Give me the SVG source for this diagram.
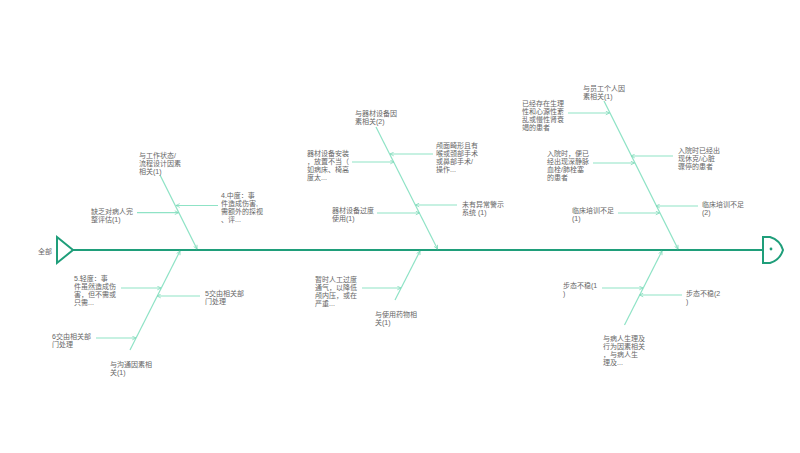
<svg xmlns="http://www.w3.org/2000/svg" width="800" height="453" viewBox="0 0 800 453">
<style>
text{font-family:"Liberation Sans","Noto Sans CJK SC",sans-serif;font-size:7px;fill:#666}
.spine{stroke:#1f9e7a;stroke-width:2;fill:none}
.br{stroke:#8fe3c6;stroke-width:1.2;fill:none;marker-end:url(#ah)}
.sub{stroke:#8fe3c6;stroke-width:1.2;fill:none;marker-end:url(#ah)}
</style>
<defs>
<marker id="ah" viewBox="0 0 8 8" refX="7" refY="4" markerWidth="5" markerHeight="5" markerUnits="userSpaceOnUse" orient="auto">
<path d="M1,1 L7,4 L1,7" fill="none" stroke="#7fd9b8" stroke-width="1.2"/>
</marker>
</defs>
<rect width="800" height="453" fill="#fff"/>
<g id="connectors">
<line class="spine" x1="73" y1="250" x2="763" y2="250"/>
<line class="br" x1="160" y1="175" x2="197" y2="249"/>
<line class="br" x1="130" y1="350" x2="180" y2="251"/>
<line class="br" x1="376" y1="127" x2="437.5" y2="249"/>
<line class="br" x1="395" y1="300" x2="420" y2="251"/>
<line class="br" x1="604" y1="101" x2="678" y2="249"/>
<line class="br" x1="624.5" y1="325" x2="662" y2="251"/>
<line class="sub" x1="218" y1="205.5" x2="176" y2="205.5"/>
<line class="sub" x1="137" y1="212.7" x2="178.5" y2="212.7"/>
<line class="sub" x1="121" y1="288" x2="161" y2="288"/>
<line class="sub" x1="200" y1="296" x2="157" y2="296"/>
<line class="sub" x1="96" y1="338" x2="136" y2="338"/>
<line class="sub" x1="433" y1="154" x2="390" y2="154"/>
<line class="sub" x1="352" y1="162" x2="394" y2="162"/>
<line class="sub" x1="457" y1="205" x2="415.5" y2="205"/>
<line class="sub" x1="377" y1="213" x2="419.5" y2="213"/>
<line class="sub" x1="362" y1="288" x2="401" y2="288"/>
<line class="sub" x1="568" y1="113" x2="609.5" y2="113"/>
<line class="sub" x1="673" y1="156" x2="631" y2="156"/>
<line class="sub" x1="593" y1="163" x2="634.5" y2="163"/>
<line class="sub" x1="698" y1="206" x2="656" y2="206"/>
<line class="sub" x1="618" y1="213" x2="659.5" y2="213"/>
<line class="sub" x1="602" y1="288" x2="643" y2="288"/>
<line class="sub" x1="682" y1="295" x2="639.5" y2="295"/>
</g>
<g id="tail">
<polygon points="57,237 73,250 57,263" fill="#fff" stroke="#1f9e7a" stroke-width="2" stroke-linejoin="miter"/>
<text x="38" y="254">全部</text>
</g>
<g id="head">
<path d="M763,237 L770,237 Q780,240 783,250 Q780,260 770,263 L763,263 Z" fill="#fff" stroke="#1f9e7a" stroke-width="2"/>
<circle cx="771" cy="249" r="1.4" fill="#1f9e7a"/>
</g>
<g id="n1"><text x="139" y="158">与工作状态/</text><text x="139" y="166">流程设计因素</text><text x="139" y="174">相关(1)</text></g>
<g id="n2"><text x="221" y="198">4.中度：事</text><text x="221" y="206">件造成伤害,</text><text x="221" y="214">需额外的探视</text><text x="221" y="222">、评...</text></g>
<g id="n3"><text x="91" y="213.5">缺乏对病人完</text><text x="91" y="221.5">整评估(1)</text></g>
<g id="n4"><text x="74" y="281">5.轻度：事</text><text x="74" y="289">件虽然造成伤</text><text x="74" y="297">害，但不需或</text><text x="74" y="305">只需...</text></g>
<g id="n5"><text x="205" y="296">5交由相关部</text><text x="205" y="304">门处理</text></g>
<g id="n6"><text x="52" y="338.5">6交由相关部</text><text x="52" y="346.5">门处理</text></g>
<g id="n7"><text x="110" y="367">与沟通因素相</text><text x="110" y="375">关(1)</text></g>
<g id="n8"><text x="355" y="116">与器材设备因</text><text x="355" y="124">素相关(2)</text></g>
<g id="n9"><text x="436" y="148">颅面畸形且有</text><text x="436" y="156">喉或颈部手术</text><text x="436" y="164">或鼻部手术/</text><text x="436" y="172">操作...</text></g>
<g id="n10"><text x="307" y="155.5">器材设备安装</text><text x="307" y="163.5">，放置不当（</text><text x="307" y="171.5">如病床、椅高</text><text x="307" y="179.5">度太...</text></g>
<g id="n11"><text x="462" y="207">未有异常警示</text><text x="462" y="215">系统 (1)</text></g>
<g id="n12"><text x="332" y="212.5">器材设备过度</text><text x="332" y="220.5">使用(1)</text></g>
<g id="n13"><text x="315" y="281.5">暂时人工过度</text><text x="315" y="289.5">通气，以降低</text><text x="315" y="297.5">颅内压，或在</text><text x="315" y="305.5">严重...</text></g>
<g id="n14"><text x="375" y="316.5">与使用药物相</text><text x="375" y="324.5">关(1)</text></g>
<g id="n15"><text x="583" y="91">与员工个人因</text><text x="583" y="99">素相关(1)</text></g>
<g id="n16"><text x="522" y="106">已经存在生理</text><text x="522" y="114">性和心源性紊</text><text x="522" y="122">乱或慢性肾衰</text><text x="522" y="130">竭的患者</text></g>
<g id="n17"><text x="678" y="152.5">入院时已经出</text><text x="678" y="160.5">现休克/心脏</text><text x="678" y="168.5">骤停的患者</text></g>
<g id="n18"><text x="547" y="156">入院时，便已</text><text x="547" y="164">经出现深静脉</text><text x="547" y="172">血栓/肺栓塞</text><text x="547" y="180">的患者</text></g>
<g id="n19"><text x="702" y="206.5">临床培训不足</text><text x="702" y="214.5">(2)</text></g>
<g id="n20"><text x="572" y="213">临床培训不足</text><text x="572" y="221">(1)</text></g>
<g id="n21"><text x="563" y="288">步态不稳(1</text><text x="563" y="296">)</text></g>
<g id="n22"><text x="686" y="296">步态不稳(2</text><text x="686" y="304">)</text></g>
<g id="n23"><text x="603" y="340.5">与病人生理及</text><text x="603" y="348.5">行为因素相关</text><text x="603" y="356.5">，与病人生</text><text x="603" y="364.5">理及...</text></g>
</svg>
